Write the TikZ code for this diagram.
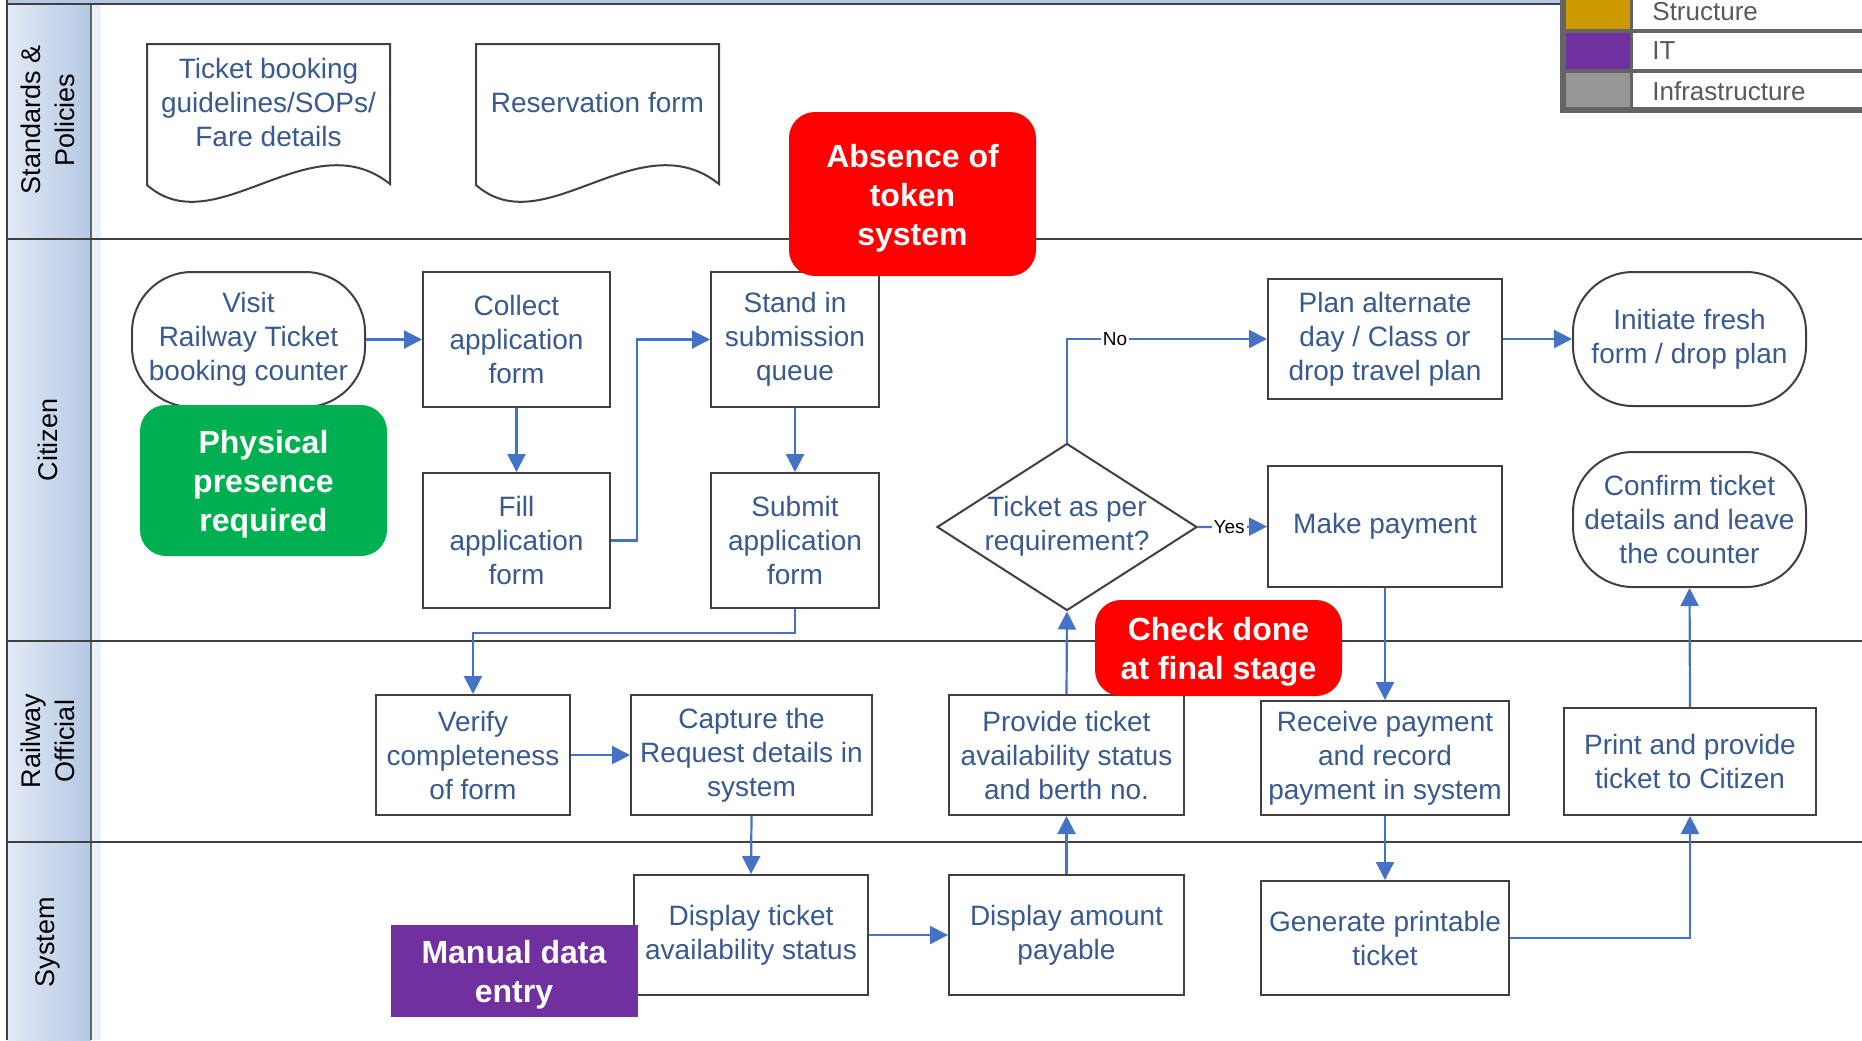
\documentclass[tikz,border=0pt]{standalone}
\usepackage{fontspec}
\setmainfont{Liberation Sans}
\usetikzlibrary{shapes.geometric,arrows.meta}
\definecolor{txtblue}{RGB}{56,90,142}
\definecolor{lineblue}{RGB}{68,114,196}
\definecolor{boxgray}{RGB}{64,64,64}
\definecolor{headL}{RGB}{226,234,245}
\definecolor{headR}{RGB}{180,200,228}
\definecolor{cred}{RGB}{255,0,0}
\definecolor{cgreen}{RGB}{0,176,80}
\definecolor{cpurple}{RGB}{112,48,160}
\definecolor{cgold}{RGB}{204,153,0}
\definecolor{cgrey}{RGB}{150,150,150}
\definecolor{legline}{RGB}{100,100,100}
\definecolor{legtext}{RGB}{89,89,89}
\begin{document}
\begin{tikzpicture}[x=0.5pt,y=-0.5pt,
  box/.style={draw=boxgray, line width=1pt, fill=white, align=center, text=txtblue, font=\fontsize{14}{17}\selectfont, inner sep=0pt},
  term/.style={box, rounded corners=30pt},
  doctext/.style={align=center, text=txtblue, font=\fontsize{14}{17}\selectfont, inner sep=0pt},
  docline/.style={draw=boxgray, line width=1pt, fill=white},
  cbox/.style={inner sep=0pt, rounded corners=13pt, minimum width=123.5pt},
  ctext/.style={align=center, text=white, font=\fontsize{16}{19.5}\selectfont\bfseries, inner sep=0pt},
  arr/.style={draw=lineblue, line width=1.1pt, -{Triangle[length=9pt,width=9pt]}},
  lanehead/.style={font=\fontsize{13.5}{17}\selectfont, align=center, rotate=90, text=black, inner sep=0pt},
  lbl/.style={font=\fontsize{9.5}{11}\selectfont, fill=white, inner sep=1pt, text=black},
  legtxt/.style={font=\fontsize{13}{15}\selectfont, text=legtext, anchor=west, inner sep=0pt}
]
\useasboundingbox (0,0) rectangle (1862,1040);
\fill[white] (0,0) rectangle (1862,1040);

% lane headers
\foreach \ya/\yb in {3/239, 239/641, 641/842, 842/1040}
  \shade[left color=headL,right color=headR] (7,\ya) rectangle (91,\yb);
\fill[headL, opacity=0.7] (91,3) rectangle (101,1040);
\draw[legline, line width=0.8pt] (91,3) -- (91,1040);
\node[lanehead] (hstd) at (48,120) {Standards \&\\Policies};
\node[lanehead] (hcit) at (48,440) {Citizen};
\node[lanehead] (hrail) at (48,741) {Railway\\Official};
\node[lanehead] (hsys) at (48,942) {System};

% lane lines and borders
\fill[headR] (7,0) rectangle (1560,3);
\draw[boxgray, line width=0.9pt] (7,4) -- (1560,4);
\draw[boxgray, line width=1pt] (7,0) -- (7,1040);
\draw[boxgray, line width=1pt] (7,239) -- (1862,239);
\draw[boxgray, line width=1pt] (7,641) -- (1862,641);
\draw[boxgray, line width=1pt] (7,842) -- (1862,842);

% legend
\fill[legline] (1560,0) rectangle (1862,113);
\fill[cgold] (1566,0) rectangle (1630,29);
\fill[cpurple] (1566,33) rectangle (1630,69);
\fill[cgrey] (1566,73) rectangle (1630,107);
\fill[white] (1633,0) rectangle (1862,29);
\fill[white] (1633,33) rectangle (1862,69);
\fill[white] (1633,73) rectangle (1862,107);
\node[legtxt] (lg1) at (1652,12) {Structure};
\node[legtxt] (lg2) at (1652,51) {IT};
\node[legtxt] (lg3) at (1652,91) {Infrastructure};

% documents
\draw[docline] (147,44) -- (390,44) -- (390,184) .. controls (310,120) and (215,245) .. (147,185) -- cycle;
\node[doctext] (tdoc) at (268.5,102) {Ticket booking\\guidelines/SOPs/\\Fare details};
\draw[docline] (476,44) -- (719,44) -- (719,184) .. controls (639,120) and (544,245) .. (476,185) -- cycle;
\node[doctext] (rdoc) at (597.5,102) {Reservation form};

% citizen lane
\node[term, minimum width=116.5pt, minimum height=67.5pt] (visit) at (248.5,339.5) {Visit\\Railway Ticket\\booking counter};
\node[box, minimum width=93.5pt, minimum height=67.5pt] (collect) at (516.5,339.5) {Collect\\application\\form};
\node[box, minimum width=84pt, minimum height=67.5pt] (stand) at (795,339.5) {Stand in\\submission\\queue};
\node[box, minimum width=93.5pt, minimum height=67.5pt] (fill) at (516.5,540.5) {Fill\\application\\form};
\node[box, minimum width=84pt, minimum height=67.5pt] (submit) at (795,540.5) {Submit\\application\\form};
\node[draw=boxgray, line width=1pt, fill=white, shape=diamond, minimum width=130pt, minimum height=83.5pt, inner sep=0pt] (dia) at (1067,527) {};
\node[doctext] (diatext) at (1067,526) {Ticket as per\\requirement?};
\node[box, minimum width=117pt, minimum height=60pt] (plan) at (1385,339) {Plan alternate\\day / Class or\\drop travel plan};
\node[term, minimum width=116.5pt, minimum height=67pt] (initiate) at (1689.5,339) {Initiate fresh\\form / drop plan};
\node[box, minimum width=117pt, minimum height=60.5pt] (make) at (1385,526.5) {Make payment};
\node[term, minimum width=116.5pt, minimum height=67.5pt] (confirm) at (1689.5,519.5) {Confirm ticket\\details and leave\\the counter};

% railway official lane
\node[box, minimum width=97pt, minimum height=60pt] (verify) at (473,755) {Verify\\completeness\\of form};
\node[box, minimum width=120.5pt, minimum height=60pt] (capture) at (751.5,755) {Capture the\\Request details in\\system};
\node[box, minimum width=117.5pt, minimum height=60pt] (provide) at (1066.5,755) {Provide ticket\\availability status\\and berth no.};
\node[box, minimum width=124pt, minimum height=57pt] (receive) at (1385,758) {Receive payment\\and record\\payment in system};
\node[box, minimum width=126pt, minimum height=53.5pt] (print) at (1690,761.5) {Print and provide\\ticket to Citizen};

% system lane
\node[box, minimum width=117pt, minimum height=60pt] (dispticket) at (751,935) {Display ticket\\availability status};
\node[box, minimum width=117.5pt, minimum height=60pt] (dispamount) at (1066.5,935) {Display amount\\payable};
\node[box, minimum width=124pt, minimum height=57pt] (generate) at (1385,938) {Generate printable\\ticket};

% connectors
\draw[arr] (visit.east) -- (collect.west);
\draw[arr] (collect.south) -- (fill.north);
\draw[arr] (fill.east) -- ++(26,0) |- (stand.west);
\draw[arr] (stand.south) -- (submit.north);
\draw[arr] (submit.south) -- ++(0,24) -| (verify.north);
\draw[arr] (verify.east) -- (capture.west);
\draw[arr] (capture.south) -- (dispticket.north);
\draw[arr] (dispticket.east) -- (dispamount.west);
\draw[arr] (dispamount.north) -- (provide.south);
\draw[arr] (provide.north) -- (dia.south);
\draw[arr] (dia.north) |- node[lbl, pos=0.62] {No} (plan.west);
\draw[arr] (dia.east) -- node[lbl, pos=0.45] {Yes} (make.west);
\draw[arr] (plan.east) -- (initiate.west);
\draw[arr] (make.south) -- (receive.north);
\draw[arr] (receive.south) -- (generate.north);
\draw[arr] (generate.east) -| (print.south);
\draw[arr] (print.north) -- (confirm.south);

% callouts
\node[cbox, fill=cred, minimum height=82pt] (absence) at (912.5,194) {};
\node[ctext] (absencet) at ([yshift=-2pt]absence.center) {Absence of\\token\\system};
\node[cbox, fill=cgreen, minimum height=75.5pt] (physical) at (263.5,480.5) {};
\node[ctext] (physicalt) at ([yshift=-2pt]physical.center) {Physical\\presence\\required};
\node[cbox, fill=cred, minimum height=48pt] (checkdone) at (1218.5,648) {};
\node[ctext] (checkdonet) at ([yshift=-2pt]checkdone.center) {Check done\\at final stage};
\node[cbox, fill=cpurple, rounded corners=0pt, minimum height=45.75pt] (manual) at (514,971) {};
\node[ctext] (manualt) at ([yshift=-2pt]manual.center) {Manual data\\entry};
\end{tikzpicture}
\end{document}
